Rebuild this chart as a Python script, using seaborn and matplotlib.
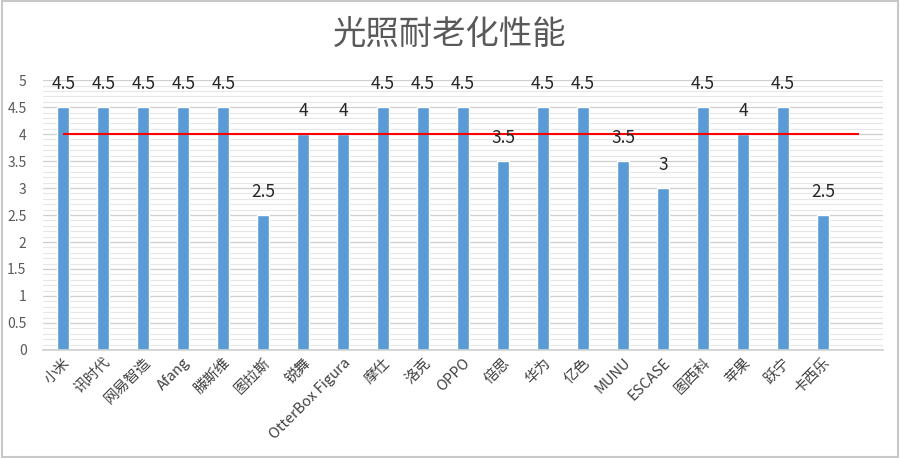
import numpy as np
import pandas as pd
import matplotlib
matplotlib.use("Agg")
import matplotlib.pyplot as plt
import seaborn as sns
from matplotlib.patches import Rectangle

# ─── Data ─────────────────────────────────────────────
brands = ["小米", "讯时代", "网易智造", "Afang", "滕斯维", "图拉斯", "锐舞",
          "OtterBox Figura", "摩仕", "洛克", "OPPO", "倍思", "华为", "亿色",
          "MUNU", "ESCASE", "图西科", "苹果", "跃宁", "卡西乐"]
scores = [4.5, 4.5, 4.5, 4.5, 4.5, 2.5, 4, 4, 4.5, 4.5, 4.5, 3.5, 4.5, 4.5,
          3.5, 3, 4.5, 4, 4.5, 2.5]
y_ticks = [0, 0.5, 1, 1.5, 2, 2.5, 3, 3.5, 4, 4.5, 5]
pass_line = 4
title = "光照耐老化性能"

sns.set_theme(style="white")
plt.rcParams["font.family"] = ["Noto Sans CJK SC", "DejaVu Sans"]

df = pd.DataFrame({"brand": brands, "score": scores})

fig = plt.figure(figsize=(9, 4.58), dpi=100)
ax = fig.add_axes([0.048, 0.236, 0.933, 0.589])

# minor + major grid lines
for v in np.arange(0, 5.01, 0.1):
    ax.axhline(v, color="#e6e6e6", lw=0.8, zorder=0)
for v in y_ticks:
    ax.axhline(v, color="#d0d0d0", lw=0.9, zorder=0)

sns.barplot(data=df, x="brand", y="score", color="#5b9bd5", width=0.3,
            saturation=1, ax=ax, zorder=2)

ax.hlines(pass_line, 0, len(brands) - 0.1, color="#ff0000", lw=1.5, zorder=3)

for i, v in enumerate(scores):
    ax.text(i, v + 0.42, f"{v:g}", ha="center", va="center", fontsize=12.5,
            color="#262626", zorder=4)

ax.set_xlim(-0.5, len(brands) + 0.5)
ax.set_ylim(0, 5)
ax.set_yticks(y_ticks)
ax.set_yticklabels([f"{v:g}" for v in y_ticks], fontsize=10, color="#595959")
ax.tick_params(axis="y", length=0, pad=12)
ax.tick_params(axis="x", length=0, pad=4)
ax.set_xticks(range(len(brands)))
ax.set_xticklabels(brands, rotation=45, ha="right", rotation_mode="anchor",
                   fontsize=10.5, color="#404040")
ax.set_xlabel("")
ax.set_ylabel("")
for s in ["top", "right", "left"]:
    ax.spines[s].set_visible(False)
ax.spines["bottom"].set_color("#d0d0d0")

fig.text(0.5, 0.925, title, ha="center", va="center", fontsize=24,
         color="#595959")

fig.patches.append(Rectangle((0.002, 0.003), 0.996, 0.994, transform=fig.transFigure,
                             fill=False, edgecolor="#c8c8c8", lw=1.5))

fig.savefig("out.png", dpi=100)
